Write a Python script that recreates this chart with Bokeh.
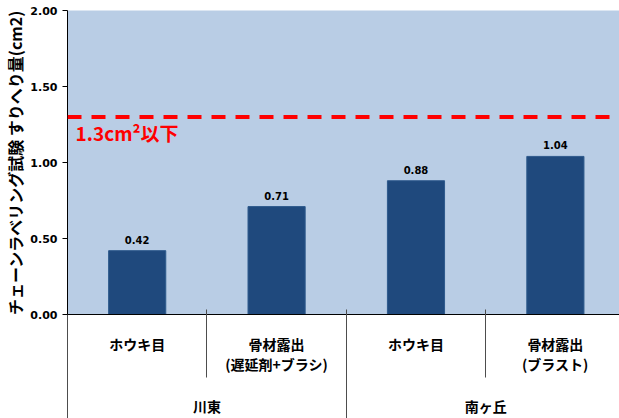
from bokeh.plotting import figure
from bokeh.models import (Range1d, LinearAxis, FixedTicker, Span, Label,
                          ColumnDataSource, NumeralTickFormatter, CustomJSTickFormatter)
from bokeh.core.properties import value
from bokeh.embed import file_html
from bokeh.resources import INLINE

# ---- data ----
groups = ["川東", "南ヶ丘"]
group_sizes = [2, 2]
subcats = ["ホウキ目", "骨材露出\n(遅延剤+ブラシ)", "ホウキ目", "骨材露出\n(ブラスト)"]
values = [0.42, 0.71, 0.88, 1.04]
value_labels = ["0.42", "0.71", "0.88", "1.04"]
y_ticks = [0.0, 0.5, 1.0, 1.5, 2.0]
limit_value = 1.3
limit_label = "1.3cm²以下"
y_title = "チェーンラベリング試験 すりへり量(cm2)"

# ---- derived positions (category index based) ----
xs = [i + 0.5 for i in range(len(values))]
X_END = 3.96
bounds = [float(i) for i in range(len(values) + 1) if i <= X_END]
group_starts = [sum(group_sizes[:i]) for i in range(len(groups))]
group_centers = [s + n / 2 for s, n in zip(group_starts, group_sizes)]
group_bounds = [float(s) for s in group_starts]

JP = "Noto Sans CJK JP"
NUM = "DejaVu Sans"
SEP = "#4D4D4D"

p = figure(width=619, height=418, x_range=Range1d(0, X_END), y_range=Range1d(0, 2.0),
           x_axis_type=None, y_axis_type=None, output_backend="svg",
           toolbar_location=None, min_border_left=67,
           min_border_right=0, min_border_bottom=0)
p.min_border_top = 10
p.background_fill_color = "#B9CDE5"
p.border_fill_color = "white"
p.outline_line_color = None

# y axis
yax = LinearAxis(ticker=FixedTicker(ticks=y_ticks, minor_ticks=[]),
                 formatter=NumeralTickFormatter(format="0.00"))
yax.axis_line_color = "black"
yax.major_tick_out = 5
yax.major_tick_in = 0
yax.major_tick_line_color = "black"
yax.minor_tick_line_color = None
yax.major_label_text_font = NUM
yax.major_label_text_font_style = "bold"
yax.major_label_text_font_size = "11px"
yax.major_label_text_color = "black"
yax.major_label_standoff = 5
yax.axis_label = y_title
yax.axis_label_text_font = JP
yax.axis_label_text_font_style = "bold"
yax.axis_label_text_font_size = "16px"
yax.axis_label_text_color = "black"
yax.axis_label_standoff = 0
p.add_layout(yax, "left")

p.ygrid.ticker = FixedTicker(ticks=y_ticks)
p.ygrid.grid_line_color = "#555555"
p.ygrid.grid_line_width = 1

# sub-category axis (labels + short separators)
SUB_SEP_OUT = 63
sub_labels_js = CustomJSTickFormatter(args=dict(labels=subcats),
                                      code="return labels[Math.floor(tick)] || '';")
xax1 = LinearAxis(ticker=FixedTicker(ticks=xs, minor_ticks=bounds), formatter=sub_labels_js)
xax1.axis_line_color = "black"
xax1.major_tick_out = 0
xax1.major_tick_in = 0
xax1.major_tick_line_color = None
xax1.minor_tick_in = 5
xax1.minor_tick_out = SUB_SEP_OUT
xax1.minor_tick_line_color = SEP
xax1.major_label_text_font = JP
xax1.major_label_text_font_style = "bold"
xax1.major_label_text_font_size = "14px"
xax1.major_label_text_color = "black"
xax1.major_label_text_line_height = 1.0
xax1.major_label_standoff = 19 - SUB_SEP_OUT
xax1.axis_label_standoff = 0
p.add_layout(xax1, "below")

# group axis (labels + long separators)
GRP_SEP_OUT = 45
grp_js = CustomJSTickFormatter(args=dict(labels=groups, centers=group_centers),
                               code="const i = centers.indexOf(tick); return i >= 0 ? labels[i] : '';")
xax2 = LinearAxis(ticker=FixedTicker(ticks=group_centers, minor_ticks=group_bounds), formatter=grp_js)
xax2.axis_line_color = None
xax2.major_tick_out = 0
xax2.major_tick_in = 0
xax2.major_tick_line_color = None
xax2.minor_tick_in = 65
xax2.minor_tick_out = GRP_SEP_OUT
xax2.minor_tick_line_color = SEP
xax2.major_label_text_font = JP
xax2.major_label_text_font_style = "bold"
xax2.major_label_text_font_size = "14px"
xax2.major_label_text_color = "black"
xax2.major_label_standoff = 19 - GRP_SEP_OUT
xax2.axis_label_standoff = 0
p.add_layout(xax2, "below")

# bars
src = ColumnDataSource(dict(x=xs, top=values, lab=value_labels))
p.vbar(x="x", top="top", width=0.41, source=src, fill_color="#1F497D",
       line_color="#2E5A8C", line_width=1)
p.text(x="x", y="top", text="lab", source=src, text_align="center",
       text_baseline="middle", y_offset=-11, text_font=value(NUM),
       text_font_style="bold", text_font_size="10px", text_color="black")

# limit line
p.add_layout(Span(location=limit_value, dimension="width", line_color="#FF0000",
                  line_width=4, line_dash="14 10"))
p.add_layout(Label(x=0.058, y=1.20, text=limit_label, text_font=JP,
                   text_font_style="bold", text_font_size="19px",
                   text_color="#FF0000", text_baseline="middle", text_align="left"))

open("out.html", "w").write(file_html(p, INLINE))
